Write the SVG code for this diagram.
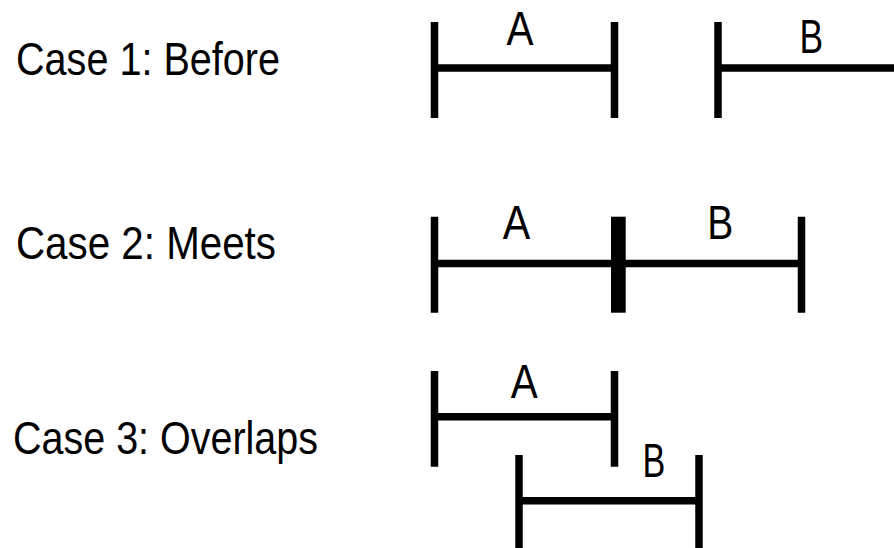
<svg xmlns="http://www.w3.org/2000/svg" width="894" height="548" viewBox="0 0 894 548">
<style>
.bar{stroke:#000;stroke-width:7.5;fill:none;stroke-linecap:butt}
.lbl{font-family:"Liberation Sans",Arial,sans-serif;font-size:47px;fill:#000}
.let{font-family:"Liberation Sans",Arial,sans-serif;font-size:48px;fill:#000}
</style>
<rect width="894" height="548" fill="#fff"/>
<g id="label-case1"><text class="lbl" x="16" y="75" textLength="264" lengthAdjust="spacingAndGlyphs">Case 1: Before</text></g>
<g id="label-case2"><text class="lbl" x="16" y="259" textLength="260" lengthAdjust="spacingAndGlyphs">Case 2: Meets</text></g>
<g id="label-case3"><text class="lbl" x="13" y="454" textLength="305" lengthAdjust="spacingAndGlyphs">Case 3: Overlaps</text></g>

<g id="case1-A">
<path class="bar" d="M434.5 22V118M434.5 68H614.5M614.5 22V118"/>
<text class="let" x="506.5" y="45" textLength="27" lengthAdjust="spacingAndGlyphs">A</text>
</g>
<g id="case1-B">
<path class="bar" d="M718 22V118M718 68H894"/>
<text class="let" x="799.4" y="52.7" textLength="23.6" lengthAdjust="spacingAndGlyphs">B</text>
</g>

<g id="case2-A">
<path class="bar" d="M434.5 216.7V312.7M434.5 263.5H618"/>
<text class="let" x="502.7" y="239" textLength="27.5" lengthAdjust="spacingAndGlyphs">A</text>
</g>
<g id="case2-B">
<path class="bar" d="M618 263.5H801.5M801.5 216.7V312.7"/>
<text class="let" x="707.3" y="239.3" textLength="26" lengthAdjust="spacingAndGlyphs">B</text>
</g>
<g id="case2-meet">
<rect x="611" y="216.7" width="14.7" height="96" fill="#000"/>
</g>

<g id="case3-A">
<path class="bar" d="M434.5 371V466.7M434.5 416.7H614.5M614.5 371V466.7"/>
<text class="let" x="510.8" y="397.7" textLength="27" lengthAdjust="spacingAndGlyphs">A</text>
</g>
<g id="case3-B">
<path class="bar" d="M519 455V548M519 500.7H699M699 455V548"/>
<text class="let" x="642.6" y="477.3" textLength="22.8" lengthAdjust="spacingAndGlyphs">B</text>
</g>
<g id="connectors"></g>
</svg>
